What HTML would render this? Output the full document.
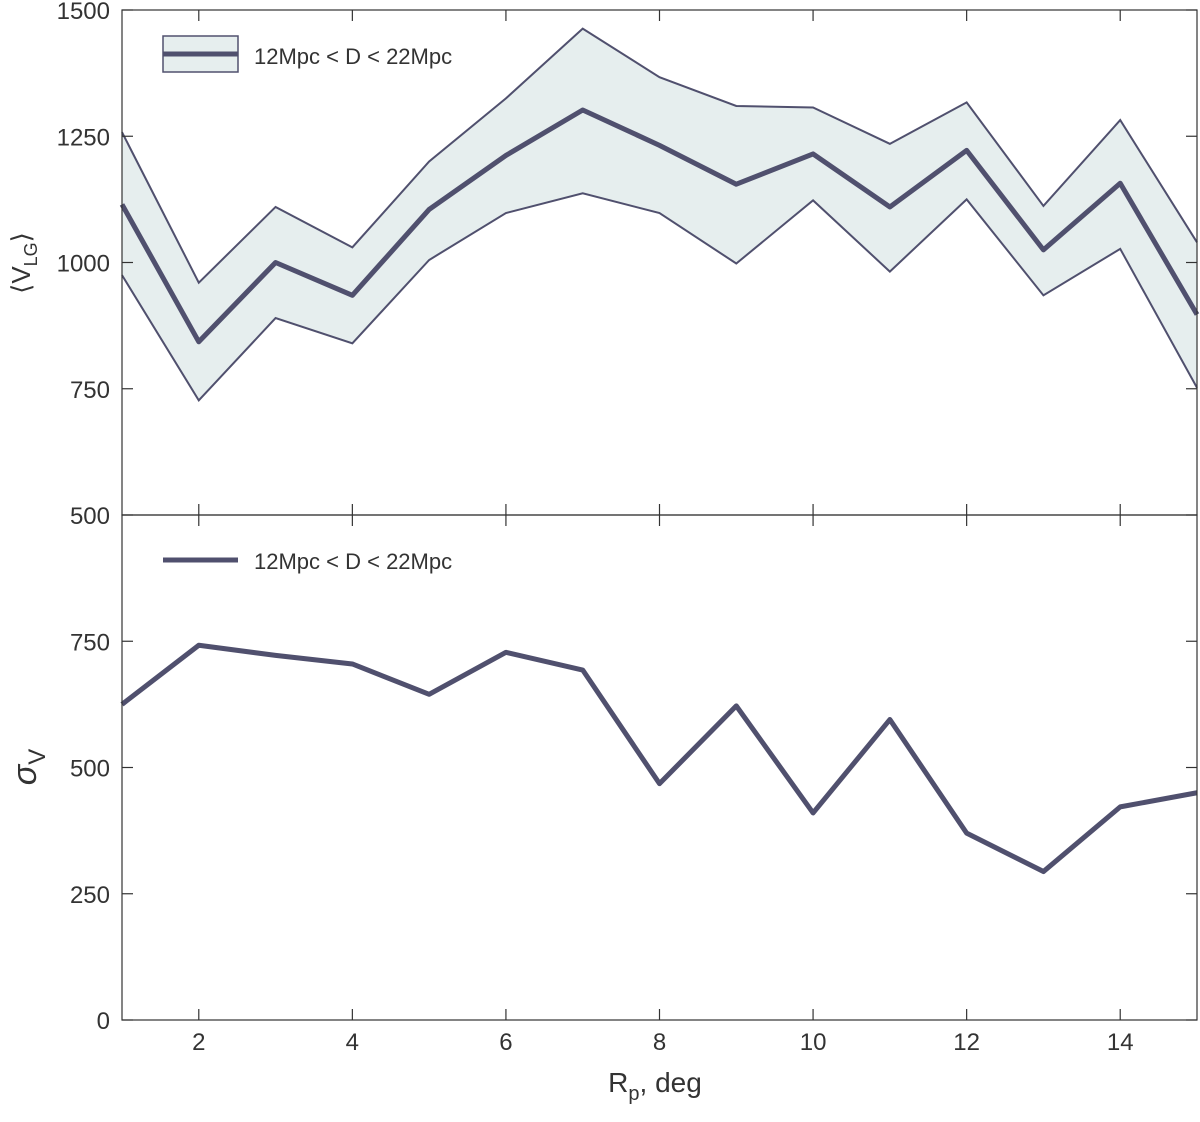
<!DOCTYPE html>
<html><head><meta charset="utf-8"><style>
html,body{margin:0;padding:0;background:#fff}
svg text{font-family:"Liberation Sans",sans-serif;fill:#333}
</style></head><body>
<svg id="chart" width="1200" height="1117" xmlns="http://www.w3.org/2000/svg">
<g id="g"></g>
</svg>
<script>
const rp = [1,2,3,4,5,6,7,8,9,10,11,12,13,14,15];
const meanV = [1115,843,1000,935,1105,1212,1302,1232,1155,1215,1110,1222,1025,1157,897];
const upperV = [1258,960,1110,1030,1200,1325,1463,1367,1310,1307,1235,1317,1112,1282,1040];
const lowerV = [975,727,890,840,1005,1098,1137,1098,998,1123,982,1125,935,1027,752];
const sigmaV = [625,742,722,705,645,728,693,468,622,410,595,370,294,422,450];
const xTicks = [2,4,6,8,10,12,14];
const topTicks = [500,750,1000,1250,1500];
const botTicks = [0,250,500,750];

const L=122,R=1197,T1=10,B1=515,T2=515,B2=1020;
const C='#50506e';
const sx=v=>L+(v-1)/(15-1)*(R-L);
const sy1=v=>B1-(v-500)/1000*(B1-T1);
const sy2=v=>B2-v/1000*(B2-T2);
const g=document.getElementById('g');
const NS='http://www.w3.org/2000/svg';
function mk(tag,attrs,parent){const e=document.createElementNS(NS,tag);for(const k in attrs)e.setAttribute(k,attrs[k]);(parent||g).appendChild(e);return e;}
function pts(ys,sy){return rp.map((x,i)=>sx(x)+','+sy(ys[i])).join(' ');}

let band=mk('polygon',{points:pts(upperV,sy1)+' '+rp.slice().reverse().map((x,j)=>sx(x)+','+sy1(lowerV[rp.length-1-j])).join(' '),fill:'#e6eeee',stroke:'none'});


let up=mk('polyline',{points:pts(upperV,sy1),fill:'none',stroke:C,'stroke-width':2});


let lo=mk('polyline',{points:pts(lowerV,sy1),fill:'none',stroke:C,'stroke-width':2});


let mn=mk('polyline',{points:pts(meanV,sy1),fill:'none',stroke:C,'stroke-width':5,'stroke-linejoin':'round'});


let sg=mk('polyline',{points:pts(sigmaV,sy2),fill:'none',stroke:C,'stroke-width':5,'stroke-linejoin':'round'});



let f1=mk('rect',{x:L,y:T1,width:R-L,height:B1-T1,fill:'none',stroke:'#333','stroke-width':1.2});


let f2=mk('rect',{x:L,y:T2,width:R-L,height:B2-T2,fill:'none',stroke:'#333','stroke-width':1.2});



xTicks.forEach(v=>{
  const x=sx(v);
  [[T1,1],[B1,-1],[T2,1],[B2,-1]].forEach(([y,d])=>mk('line',{x1:x,x2:x,y1:y,y2:y+d*11,stroke:'#333','stroke-width':1.2}));
  const t=mk('text',{x:x,y:B2+30,'text-anchor':'middle','font-size':24});t.textContent=v;
  
  
});
topTicks.forEach(v=>{
  const y=sy1(v);
  mk('line',{x1:L,x2:L+11,y1:y,y2:y,stroke:'#333','stroke-width':1.2});
  mk('line',{x1:R,x2:R-11,y1:y,y2:y,stroke:'#333','stroke-width':1.2});
  const t=mk('text',{x:L-12,y:y+9,'text-anchor':'end','font-size':24});t.textContent=v;
  
  
});
botTicks.forEach(v=>{
  const y=sy2(v);
  mk('line',{x1:L,x2:L+11,y1:y,y2:y,stroke:'#333','stroke-width':1.2});
  mk('line',{x1:R,x2:R-11,y1:y,y2:y,stroke:'#333','stroke-width':1.2});
  const t=mk('text',{x:L-12,y:y+9,'text-anchor':'end','font-size':24});t.textContent=v;
  
  
});
</script>
<svg width="1200" height="1117" style="position:absolute;left:0;top:0" xmlns="http://www.w3.org/2000/svg">
<g>
<rect x="163" y="36" width="75" height="36" fill="#e6eeee" stroke="#50506e" stroke-width="1.5"/>
<line x1="163" x2="238" y1="54" y2="54" stroke="#50506e" stroke-width="5"/>
<text x="254" y="64" font-size="22">12Mpc &lt; D &lt; 22Mpc</text>
</g>
<g>
<line x1="163" x2="238" y1="560" y2="560" stroke="#50506e" stroke-width="5"/>
<text x="254" y="569" font-size="22">12Mpc &lt; D &lt; 22Mpc</text>
</g>
<text transform="translate(30,263) rotate(-90)" text-anchor="middle" font-size="26">⟨V<tspan font-size="18" dy="7">LG</tspan><tspan dy="-7">⟩</tspan></text>
<text transform="translate(36,767) rotate(-90)" text-anchor="middle" font-size="34" font-style="italic">σ<tspan font-size="24" dy="9" font-style="normal">V</tspan></text>
<text x="655" y="1092" text-anchor="middle" font-size="28">R<tspan font-size="20" dy="8">p</tspan><tspan dy="-8">, deg</tspan></text>
</svg>
</body></html>
